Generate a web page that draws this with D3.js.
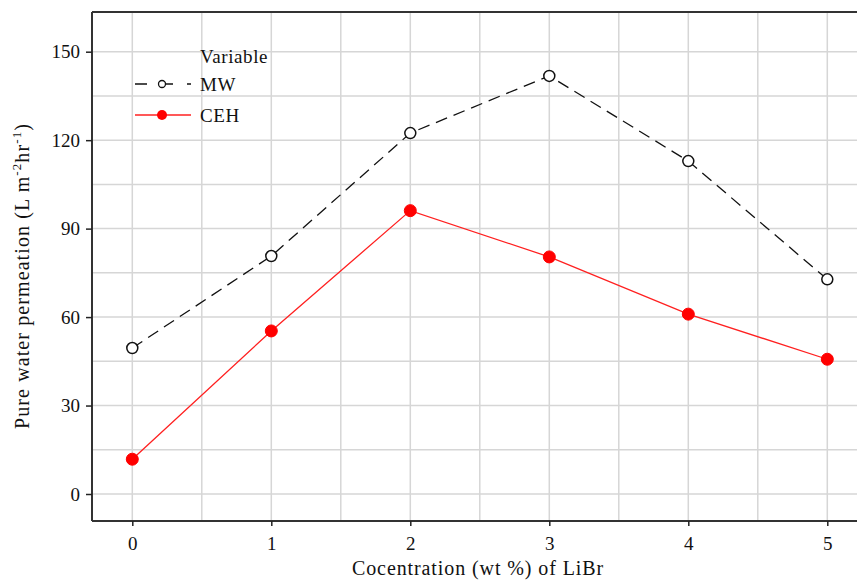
<!DOCTYPE html>
<html><head><meta charset="utf-8">
<script src="https://cdn.jsdelivr.net/npm/d3@7"></script>
<style>body{margin:0;background:#fff}svg{display:block}</style>
</head><body><svg id="c" width="857" height="581"></svg>
<script>
const categories = [0, 1, 2, 3, 4, 5];
const mwValues = [49.5, 80.7, 122.4, 141.8, 112.9, 72.8];
const cehValues = [11.8, 55.3, 96.1, 80.4, 61.0, 45.7];
const xTicks = [0, 1, 2, 3, 4, 5];
const yTicks = [0, 30, 60, 90, 120, 150];
const xGrid = [0, 0.5, 1, 1.5, 2, 2.5, 3, 3.5, 4, 4.5, 5];
const yGrid = [0, 15, 30, 45, 60, 75, 90, 105, 120, 135, 150];

const svg = d3.select("#c");
const L = 92, T = 12, B = 521, R = 900;
const x = d3.scaleLinear().domain([0, 5]).range([132.3, 827.3]);
const y = d3.scaleLinear().domain([0, 150]).range([494, 51.7]);
const font = "'Liberation Serif', 'Times New Roman', serif";

const g = svg.append("g");
g.selectAll(".vg").data(xGrid).enter().append("line")
  .attr("x1", d => x(d)).attr("x2", d => x(d)).attr("y1", T).attr("y2", B)
  .attr("stroke", "#d6d6d6").attr("stroke-width", 1.5);
g.selectAll(".hg").data(yGrid).enter().append("line")
  .attr("x1", L).attr("x2", R).attr("y1", d => y(d)).attr("y2", d => y(d))
  .attr("stroke", "#d6d6d6").attr("stroke-width", 1.5);

g.append("line").attr("x1", L).attr("x2", R).attr("y1", T).attr("y2", T).attr("stroke", "#333").attr("stroke-width", 2);

const xAxis = d3.axisBottom(x).tickValues(xTicks).tickSize(5).tickPadding(11).tickFormat(d3.format("d"));
const yAxis = d3.axisLeft(y).tickValues(yTicks).tickSize(6).tickPadding(6).tickFormat(d3.format("d"));
const gx = svg.append("g").attr("transform", `translate(0,${B})`).call(xAxis);
gx.select(".domain").attr("d", `M${L},0H${R}`).attr("stroke", "#333").attr("stroke-width", 2);
const gy = svg.append("g").attr("transform", `translate(${L},0)`).call(yAxis);
gy.select(".domain").attr("d", `M0,${T}V${B}`).attr("stroke", "#333").attr("stroke-width", 2);
[gx, gy].forEach(a => {
  a.attr("font-family", font).attr("font-size", 19);
  a.selectAll(".tick line").attr("stroke", "#222").attr("stroke-width", 1.5);
  a.selectAll(".tick text").attr("font-family", font).attr("font-size", 19).attr("fill", "#111");
});

const mwData = categories.map((c, i) => [c, mwValues[i]]);
const cehData = categories.map((c, i) => [c, cehValues[i]]);
const line = d3.line().x(d => x(d[0])).y(d => y(d[1]));
svg.append("path").datum(mwData).attr("d", line).attr("fill", "none")
  .attr("stroke", "#111").attr("stroke-width", 1.3).attr("stroke-dasharray", "12,7");
svg.append("path").datum(cehData).attr("d", line).attr("fill", "none")
  .attr("stroke", "#ff2020").attr("stroke-width", 1.3);
svg.selectAll(".mw").data(mwData).enter().append("circle")
  .attr("cx", d => x(d[0])).attr("cy", d => y(d[1])).attr("r", 5.5)
  .attr("fill", "#fff").attr("stroke", "#111").attr("stroke-width", 1.5);
svg.selectAll(".ceh").data(cehData).enter().append("circle")
  .attr("cx", d => x(d[0])).attr("cy", d => y(d[1])).attr("r", 6)
  .attr("fill", "#ff0000").attr("stroke", "#ff0000").attr("stroke-width", 1);

const lg = svg.append("g").attr("font-family", font).attr("font-size", 19).attr("fill", "#111").attr("letter-spacing", 0.6);
lg.append("text").attr("x", 200).attr("y", 63).text("Variable");
lg.append("line").attr("x1", 135).attr("x2", 191).attr("y1", 84).attr("y2", 84)
  .attr("stroke", "#111").attr("stroke-width", 1.3).attr("stroke-dasharray", "12,14");
lg.append("circle").attr("cx", 162).attr("cy", 84).attr("r", 3.5).attr("fill", "#fff").attr("stroke", "#111").attr("stroke-width", 1.3);
lg.append("text").attr("x", 200).attr("y", 91).text("MW");
lg.append("line").attr("x1", 135).attr("x2", 191).attr("y1", 115).attr("y2", 115)
  .attr("stroke", "#ff2020").attr("stroke-width", 1.3);
lg.append("circle").attr("cx", 162).attr("cy", 115).attr("r", 5).attr("fill", "#ff0000");
lg.append("text").attr("x", 200).attr("y", 122).text("CEH");

svg.append("text").attr("x", 478).attr("y", 575).attr("text-anchor", "middle")
  .attr("font-family", font).attr("font-size", 20).attr("letter-spacing", 0.9).attr("fill", "#111")
  .text("Cocentration (wt %) of LiBr");
const yt = svg.append("text").attr("transform", "translate(29,276) rotate(-90)")
  .attr("text-anchor", "middle").attr("font-family", font).attr("font-size", 20)
  .attr("letter-spacing", 1.1).attr("fill", "#111");
yt.append("tspan").text("Pure water permeation (L m");
yt.append("tspan").attr("dy", -8).attr("font-size", 13).text("-2");
yt.append("tspan").attr("dy", 8).text("hr");
yt.append("tspan").attr("dy", -8).attr("font-size", 13).text("-1");
yt.append("tspan").attr("dy", 8).text(")");
</script></body></html>
